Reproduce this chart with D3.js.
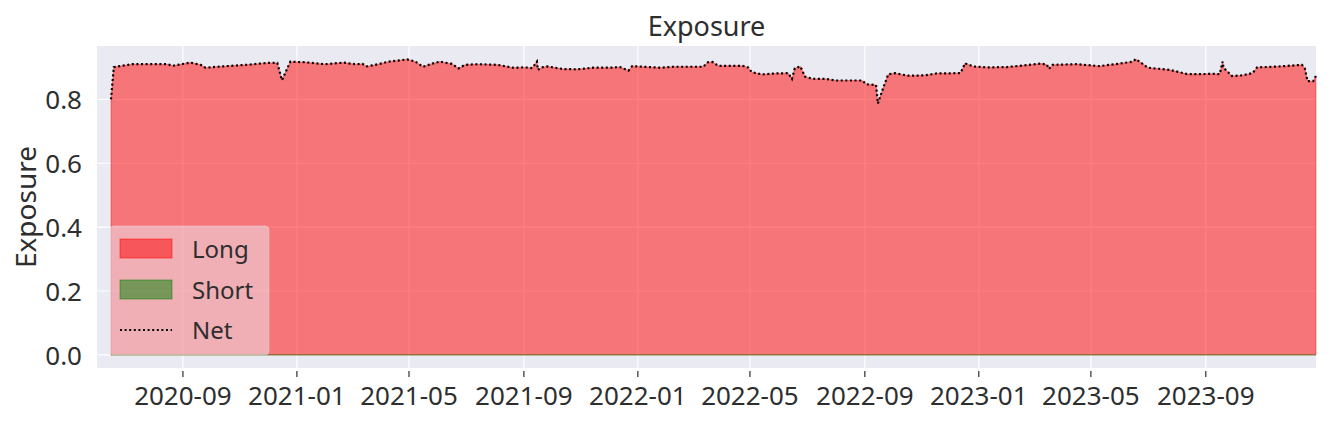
<!DOCTYPE html>
<html>
<head>
<meta charset="utf-8">
<script src="https://cdn.jsdelivr.net/npm/d3@7"></script>
<style>
  html, body { margin: 0; padding: 0; background: #ffffff; }
  svg { display: block; }
  text { font-family: "Noto Sans", "Open Sans", sans-serif; fill: #2e2e2e; }
</style>
</head>
<body>
<svg id="chart" width="1332" height="422"></svg>
<script>
// ---- data ----
const longDates = [
  "2020-06-16","2020-06-19","2020-07-09","2020-08-15","2020-08-21","2020-09-09","2020-09-20","2020-09-25",
  "2020-10-08","2020-11-12","2020-11-30","2020-12-11","2020-12-16","2020-12-25","2021-01-10","2021-01-31",
  "2021-02-20","2021-03-04","2021-03-12","2021-03-17","2021-03-29","2021-04-09","2021-04-29","2021-05-08",
  "2021-05-16","2021-05-26","2021-06-03","2021-06-16","2021-06-23","2021-06-30","2021-07-14","2021-08-04",
  "2021-08-20","2021-09-02","2021-09-10","2021-09-15","2021-09-16","2021-09-20","2021-09-26","2021-10-13",
  "2021-10-28","2021-11-14","2021-12-02","2021-12-13","2021-12-22","2021-12-26","2022-01-06","2022-01-25",
  "2022-02-08","2022-03-12","2022-03-17","2022-03-22","2022-03-28","2022-04-23","2022-04-29","2022-05-03",
  "2022-05-14","2022-05-28","2022-06-11","2022-06-15","2022-06-18","2022-06-24","2022-06-29","2022-07-07",
  "2022-07-21","2022-08-01","2022-08-29","2022-09-03","2022-09-13","2022-09-15","2022-09-19","2022-09-26",
  "2022-10-03","2022-10-17","2022-11-04","2022-11-17","2022-12-12","2022-12-15","2022-12-17","2022-12-26",
  "2023-01-10","2023-01-31","2023-02-14","2023-03-09","2023-03-15","2023-03-17","2023-03-21","2023-04-16",
  "2023-05-10","2023-06-01","2023-06-15","2023-06-18","2023-06-25","2023-07-01","2023-07-25","2023-08-12",
  "2023-08-29","2023-09-05","2023-09-16","2023-09-19","2023-09-20","2023-09-29","2023-10-10","2023-10-21",
  "2023-10-26","2023-11-19","2023-12-13","2023-12-16","2023-12-19","2023-12-25","2023-12-28"
];
const longValues = [
  0.800,0.901,0.910,0.910,0.905,0.915,0.908,0.899,
  0.902,0.909,0.914,0.914,0.860,0.918,0.916,0.910,
  0.915,0.910,0.911,0.903,0.910,0.918,0.925,0.918,
  0.902,0.912,0.918,0.911,0.897,0.908,0.910,0.908,
  0.899,0.900,0.898,0.918,0.892,0.900,0.903,0.895,
  0.894,0.899,0.899,0.901,0.890,0.904,0.902,0.899,
  0.902,0.902,0.916,0.917,0.905,0.905,0.900,0.885,
  0.878,0.881,0.882,0.864,0.897,0.903,0.871,0.864,
  0.864,0.859,0.859,0.847,0.845,0.787,0.822,0.878,
  0.882,0.874,0.875,0.881,0.882,0.897,0.913,0.903,
  0.900,0.901,0.905,0.912,0.908,0.895,0.908,0.910,
  0.904,0.912,0.918,0.926,0.912,0.899,0.892,0.879,
  0.879,0.880,0.879,0.918,0.899,0.873,0.875,0.882,
  0.900,0.903,0.908,0.897,0.857,0.857,0.874
];
// short exposure is zero over the whole period
const shortDates = ["2020-06-16", "2023-12-28"];
const shortValues = [0, 0];
// net exposure = long + short (short is zero), so it follows the long series
const netValues = longValues;

const xDomain = ["2020-06-01", "2023-12-28"];
const yDomain = [-0.041, 0.967];
const yTicks = [0.0, 0.2, 0.4, 0.6, 0.8];
const legendLabels = ["Long", "Short", "Net"];
const titleText = "Exposure";
const yLabelText = "Exposure";

// ---- drawing ----
const parse = d3.utcParse("%Y-%m-%d");
const W = 1332, H = 422;
const m = { left: 97, right: 1316, top: 46, bottom: 368 };

const svg = d3.select("#chart");
svg.append("rect").attr("width", W).attr("height", H).attr("fill", "#ffffff");

const x = d3.scaleUtc().domain(xDomain.map(parse)).range([m.left, m.right]);
const y = d3.scaleLinear().domain(yDomain).range([m.bottom, m.top]);

// axes background
svg.append("rect")
  .attr("x", m.left).attr("y", m.top)
  .attr("width", m.right - m.left).attr("height", m.bottom - m.top)
  .attr("fill", "#EAEAF2");

const xTicks = x.ticks(d3.utcMonth.every(4)).filter(d => d >= parse("2020-09-01") && d <= parse("2023-09-30"));

// grid
const grid = svg.append("g");
grid.selectAll("line.gx").data(xTicks).join("line")
  .attr("x1", d => x(d)).attr("x2", d => x(d))
  .attr("y1", m.top).attr("y2", m.bottom)
  .attr("stroke", "#ffffff").attr("stroke-width", 1.2);
grid.selectAll("line.gy").data(yTicks).join("line")
  .attr("x1", m.left).attr("x2", m.right)
  .attr("y1", d => y(d)).attr("y2", d => y(d))
  .attr("stroke", "#ffffff").attr("stroke-width", 1.2);

const longData = longDates.map((d, i) => ({ date: parse(d), v: longValues[i] }));
const shortData = shortDates.map((d, i) => ({ date: parse(d), v: shortValues[i] }));
const netData = longDates.map((d, i) => ({ date: parse(d), v: netValues[i] }));

// long area
svg.append("path").datum(longData)
  .attr("d", d3.area().x(d => x(d.date)).y0(y(0)).y1(d => y(d.v)))
  .attr("fill", "red").attr("fill-opacity", 0.5)
  .attr("stroke", "red").attr("stroke-opacity", 0.5).attr("stroke-width", 0.8);

// short area (zero height -> thin edge)
svg.append("path").datum(shortData)
  .attr("d", d3.area().x(d => x(d.date)).y0(y(0)).y1(d => y(d.v)))
  .attr("fill", "green").attr("fill-opacity", 0.5)
  .attr("stroke", "green").attr("stroke-opacity", 0.5).attr("stroke-width", 1.2);

// net line
svg.append("path").datum(netData)
  .attr("d", d3.line().x(d => x(d.date)).y(d => y(d.v)))
  .attr("fill", "none").attr("stroke", "#000000")
  .attr("stroke-width", 2.2).attr("stroke-dasharray", "2,2.6");

// x axis ticks and labels
const xa = svg.append("g");
xa.selectAll("line").data(xTicks).join("line")
  .attr("x1", d => x(d)).attr("x2", d => x(d))
  .attr("y1", m.bottom + 3).attr("y2", m.bottom + 9)
  .attr("stroke", "#2e2e2e").attr("stroke-width", 1.2);
xa.selectAll("text").data(xTicks).join("text")
  .attr("x", d => x(d)).attr("y", 405)
  .attr("text-anchor", "middle").attr("font-size", 26)
  .text(d => d3.utcFormat("%Y-%m")(d));

// y axis labels
const ya = svg.append("g");
ya.selectAll("text").data(yTicks).join("text")
  .attr("x", 82).attr("y", d => y(d) + 10)
  .attr("text-anchor", "end").attr("font-size", 26)
  .text(d => d3.format(".1f")(d));

// title
svg.append("text").attr("x", (m.left + m.right) / 2).attr("y", 36)
  .attr("text-anchor", "middle").attr("font-size", 27).text(titleText);

// y label
svg.append("text")
  .attr("transform", `translate(36,${(m.top + m.bottom) / 2}) rotate(-90)`)
  .attr("text-anchor", "middle").attr("font-size", 28).text(yLabelText);

// legend
const lg = svg.append("g");
lg.append("rect").attr("x", 110).attr("y", 226).attr("width", 159).attr("height", 129)
  .attr("rx", 4).attr("fill", "#EAEAF2").attr("fill-opacity", 0.5)
  .attr("stroke", "#e0e0e0").attr("stroke-opacity", 0.4);
const rowsY = [249, 290, 330];
lg.append("rect").attr("x", 120).attr("y", rowsY[0] - 10).attr("width", 52).attr("height", 19)
  .attr("fill", "red").attr("fill-opacity", 0.5).attr("stroke", "red").attr("stroke-opacity", 0.5);
lg.append("rect").attr("x", 120).attr("y", rowsY[1] - 10).attr("width", 52).attr("height", 19)
  .attr("fill", "green").attr("fill-opacity", 0.5).attr("stroke", "green").attr("stroke-opacity", 0.5);
lg.append("line").attr("x1", 120).attr("x2", 172).attr("y1", rowsY[2]).attr("y2", rowsY[2])
  .attr("stroke", "#000").attr("stroke-width", 2.2).attr("stroke-dasharray", "2,2.6");
lg.selectAll("text").data(legendLabels).join("text")
  .attr("x", 192).attr("y", (d, i) => rowsY[i] + 9)
  .attr("font-size", 24).text(d => d);
</script>
</body>
</html>
